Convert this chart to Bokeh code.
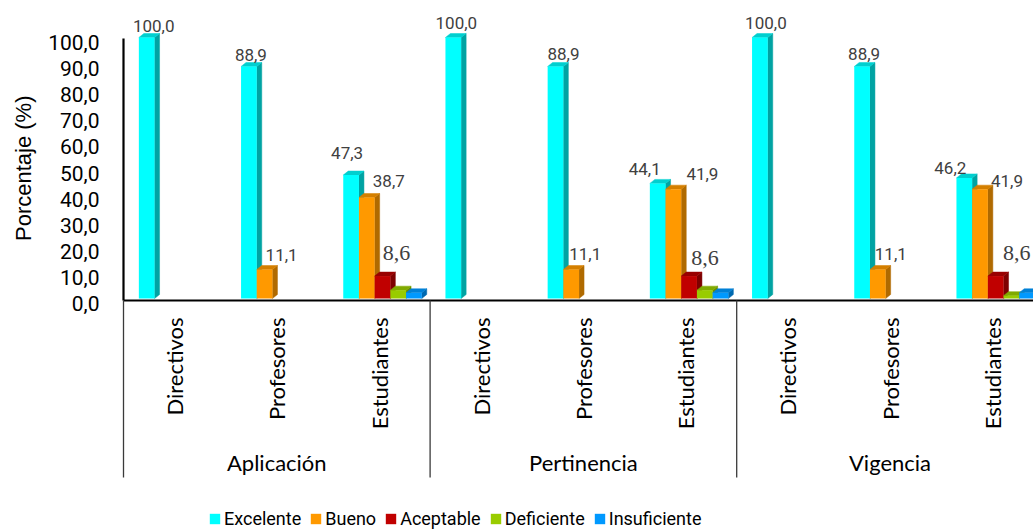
import math
from bokeh.plotting import figure
from bokeh.models import Range1d, LinearAxis, FixedTicker, Legend, LegendItem, ColumnDataSource, Title
from bokeh.core.properties import value
from bokeh.embed import file_html
from bokeh.resources import INLINE

# ---------------- data ----------------
groups = ["Aplicación", "Pertinencia", "Vigencia"]
subgroups = ["Directivos", "Profesores", "Estudiantes"]
series_names = ["Excelente", "Bueno", "Aceptable", "Deficiente", "Insuficiente"]

excelente = [100.0, 88.9, 47.3, 100.0, 88.9, 44.1, 100.0, 88.9, 46.2]
bueno = [0.0, 11.1, 38.7, 0.0, 11.1, 41.9, 0.0, 11.1, 41.9]
aceptable = [0.0, 0.0, 8.6, 0.0, 0.0, 8.6, 0.0, 0.0, 8.6]
deficiente = [0.0, 0.0, 3.2, 0.0, 0.0, 3.2, 0.0, 0.0, 1.1]
insuficiente = [0.0, 0.0, 2.2, 0.0, 0.0, 2.2, 0.0, 0.0, 2.2]

y_ticks = [0, 10, 20, 30, 40, 50, 60, 70, 80, 90, 100]
y_tick_labels = ["0,0", "10,0", "20,0", "30,0", "40,0", "50,0",
                 "60,0", "70,0", "80,0", "90,0", "100,0"]
y_title = "Porcentaje (%)"

series_values = [excelente, bueno, aceptable, deficiente, insuficiente]

# ---------------- style ----------------
front_colors = ["#00FFFF", "#FF9900", "#C00000", "#99CC00", "#0099FF"]
side_colors = ["#00A3A3", "#B06A00", "#7E0000", "#6A8E00", "#0069B0"]
top_colors = ["#00CFCF", "#D47F00", "#990000", "#80AA00", "#0080D6"]
label_series = [0, 1, 2]          # series that carry value labels
# label offsets in px (dx right, dy up) for each labelled bar, by series
label_dx = {0: [7, 2, -4, 3, 8, -13, 6, 2, -14],
            1: [0, 17, 22, 0, 14, 29, 0, 13, 27],
            2: [0, 0, 14, 0, 0, 16, 0, 0, 21]}
label_dy = {0: [12, 11, 22, 15, 12, 14, 15, 12, 10],
            1: [0, 15, 16, 0, 16, 15, 0, 16, 8],
            2: [0, 0, 23, 0, 0, 18, 0, 0, 23]}

PXX = 102.2     # px per sub-category unit
PXY = 2.61      # px per percent unit
W, H = 1033, 531
BORDER_L = 115
AXIS_PX = 123   # page x of the value axis
BASE_PX = 298   # page y of value 0
X0 = (BORDER_L - AXIS_PX) / PXX
X1 = X0 + (W - BORDER_L) / PXX
Y1 = BASE_PX / PXY
Y0 = Y1 - H / PXY
AX_SHIFT = 5 / PXY
BW = 15.7 / PXX
SHIFT = 3.5 / PXX
DX = 5 / PXX
DY = 4 / PXY

p = figure(width=W, height=H, x_range=Range1d(X0, X1), y_range=Range1d(Y0, Y1),
           output_backend="svg", toolbar_location=None,
           x_axis_location=None, y_axis_location=None,
           min_border_left=BORDER_L, min_border_right=0,
           min_border_top=0, min_border_bottom=0)
p.outline_line_color = None
p.grid.visible = False
p.background_fill_color = "white"
p.border_fill_color = "white"

p.extra_y_ranges = {"ax": Range1d(Y0 + AX_SHIFT, Y1 + AX_SHIFT)}
yax = LinearAxis(y_range_name="ax", ticker=FixedTicker(ticks=y_ticks),
                 major_label_overrides={t: l for t, l in zip(y_ticks, y_tick_labels)})
yax.axis_line_color = None
yax.major_tick_line_color = None
yax.minor_tick_line_color = None
yax.major_label_standoff = 10
yax.major_label_text_font = "Roboto"
yax.major_label_text_font_size = "21px"
yax.major_label_text_color = "black"
p.add_layout(yax, "left")

p.add_layout(Title(text=y_title, align="right", offset=95, vertical_align="top",
                   standoff=16, text_font="Liberation Sans", text_font_size="22px",
                   text_font_style="normal", text_color="black"), "left")

n_sub = len(groups) * len(subgroups)


def bar_center(k, i):
    return k + 0.5 - 2.5 * BW + SHIFT + (i + 0.5) * BW


items = []
for i, name in enumerate(series_names):
    vals = series_values[i]
    idx = [k for k in range(n_sub) if vals[k] > 0]
    xc = [bar_center(k, i) for k in idx]
    tops = [vals[k] for k in idx]
    side_xs = [[x + BW / 2, x + BW / 2 + DX, x + BW / 2 + DX, x + BW / 2] for x in xc]
    side_ys = [[0, DY, t + DY, t] for t in tops]
    top_xs = [[x - BW / 2, x + BW / 2, x + BW / 2 + DX, x - BW / 2 + DX] for x in xc]
    top_ys = [[t, t, t + DY, t + DY] for t in tops]
    p.patches(side_xs, side_ys, fill_color=side_colors[i], line_color=side_colors[i], line_width=0.5)
    p.patches(top_xs, top_ys, fill_color=top_colors[i], line_color=top_colors[i], line_width=0.5)
    r = p.vbar(x=xc, top=tops, bottom=0, width=BW, fill_color=front_colors[i], line_color=None)
    items.append(LegendItem(label=name, renderers=[r]))

# axes lines and separators
XL = -0.77
p.segment(x0=[0], y0=[XL], x1=[X1], y1=[XL], line_color="black", line_width=2.2)
p.segment(x0=[0], y0=[XL], x1=[0], y1=[99.6], line_color="black", line_width=2.2)
sep_x = [g * len(subgroups) for g in range(len(groups))]
p.segment(x0=sep_x, y0=[XL] * len(sep_x), x1=sep_x, y1=[-68.6] * len(sep_x),
          line_color="#3a3a3a", line_width=1.3)

# value labels
for i in label_series:
    vals = series_values[i]
    idx = [k for k in range(n_sub) if vals[k] > 0]
    src = ColumnDataSource(dict(
        x=[bar_center(k, i) + label_dx[i][k] / PXX for k in idx],
        y=[vals[k] + label_dy[i][k] / PXY for k in idx],
        t=[("%.1f" % vals[k]).replace(".", ",") for k in idx]))
    if i == 2:
        font, size = "Liberation Serif", "22px"
    else:
        font, size = "Roboto", "17px"
    p.text(x="x", y="y", text="t", source=src, text_align="center", text_baseline="middle",
           text_font=value(font), text_font_size=size, text_color="#404040")

# category labels
sub_x = [k + 0.5 for k in range(n_sub)]
sub_t = [subgroups[k % len(subgroups)] for k in range(n_sub)]
p.text(x=sub_x, y=[(BASE_PX - 317) / PXY] * n_sub, text=sub_t, angle=math.pi / 2,
       text_align="right", text_baseline="middle",
       text_font=value("Lato"), text_font_size="22px", text_color="black")
grp_x = [g * len(subgroups) + len(subgroups) / 2 for g in range(len(groups))]
p.text(x=grp_x, y=[(BASE_PX - 462) / PXY] * len(groups), text=groups,
       text_align="center", text_baseline="middle",
       text_font=value("Lato"), text_font_size="22px", text_color="black")

legend = Legend(items=items, orientation="horizontal", location=(208 - BORDER_L, 2),
                glyph_width=13, glyph_height=13, label_standoff=3, spacing=8,
                padding=0, margin=0, border_line_color=None, background_fill_alpha=0,
                label_text_font="Roboto", label_text_font_size="18px",
                label_text_color="black")
p.add_layout(legend)

open("out.html", "w").write(file_html(p, INLINE))
